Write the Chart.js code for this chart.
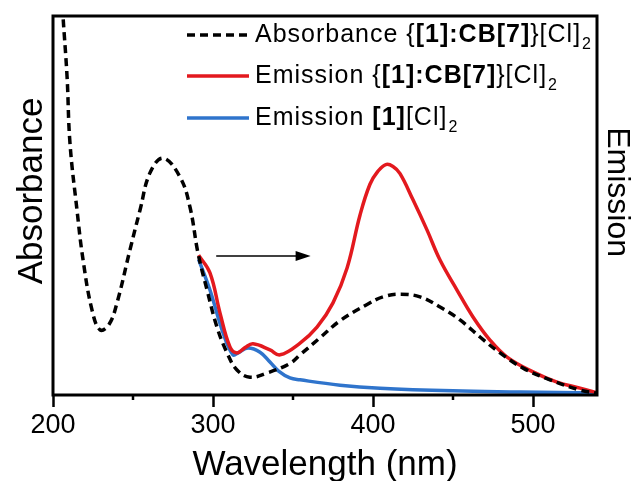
<!DOCTYPE html>
<html>
<head>
<meta charset="utf-8">
<script src="https://cdn.jsdelivr.net/npm/chart.js@4.4.1/dist/chart.umd.min.js"></script>
<style>
  html, body { margin: 0; padding: 0; background: #fff; }
  #wrap { width: 635px; height: 481px; }
</style>
</head>
<body>
<div id="wrap"><canvas id="spectra"></canvas></div>
<script>
// absorbance of {[1]:CB[7]}[Cl]2 (arb. units)
const absWl  = [205.5, 206.3, 208.8, 210.6, 215, 218.8, 224.4, 229.4, 235, 240, 248.1, 254.4, 260.6, 268.8, 279.4, 285.6, 290.6, 296.3, 302.5, 308.8, 315, 323.1, 333.8, 348, 354.4, 366.9, 379.4, 396.3, 406.3, 416.9, 429.4, 441.9, 454.4, 466.9, 479.4, 493.8, 510.6, 529.4, 540]
const absVal = [106, 99.7, 83.9, 66.5, 48.8, 35.6, 22.4, 17.2, 18.6, 24.3, 38.3, 48.8, 58.6, 62.5, 57.5, 49.6, 37.5, 27.7, 17.9, 11.1, 6.6, 4.7, 5.8, 8.3, 10.6, 15.1, 19.6, 23.9, 25.9, 26.6, 25.9, 23.2, 19.8, 15.3, 11.1, 7.1, 4.0, 1.3, 0.5]

// emission of {[1]:CB[7]}[Cl]2
const emCbWl  = [291, 298.1, 304.4, 310.6, 315, 320, 325, 335.6, 341.9, 354.4, 365, 375, 383.8, 391.9, 398.1, 403, 408, 412.5, 416.9, 425, 433.8, 441.9, 452.5, 462.5, 473.1, 483.8, 500, 515, 529.4, 540]
const emCbVal = [36.9, 32.2, 21.6, 12.7, 11.1, 12.5, 13.5, 11.9, 10.6, 13.7, 17.9, 24.3, 33.5, 47.5, 55.6, 59.0, 60.8, 60.3, 58.4, 51.5, 43.5, 35.6, 27.7, 20.6, 14.5, 10, 6.1, 3.4, 1.8, 0.6]

// emission of [1][Cl]2
const emFreeWl  = [291, 298.1, 306.3, 312.5, 316, 321.9, 329.4, 335.6, 341, 348.1, 354.4, 379.4, 404.4, 450, 491.9, 540]
const emFreeVal = [35.8, 27.7, 16.4, 10.6, 11.2, 12.4, 11.3, 8.7, 6.3, 4.5, 4.0, 2.6, 1.8, 1.1, 0.8, 0.5]

const xTicks = [200, 250, 300, 350, 400, 450, 500]

// legend text pieces: plain / bold / subscript
const legendRows = [
  [['Absorbance {', ''], ['[1]:CB[7]', 'b'], ['}[Cl]', ''], ['2', 's']],
  [['Emission {', ''], ['[1]:CB[7]', 'b'], ['}[Cl]', ''], ['2', 's']],
  [['Emission ', ''], ['[1]', 'b'], ['[Cl]', ''], ['2', 's']]
]

const toPoints = (xs, ys) => xs.map((x, i) => ({ x: x, y: ys[i] }))

const FONT = '"Liberation Sans", Arial, sans-serif'
Chart.defaults.font.family = FONT
Chart.defaults.color = '#000'

const arrow = { from: [302, 36.7], to: [361, 36.7] }

const extras = {
  id: 'extras',
  afterDatasetsDraw(chart) {
    const { ctx, chartArea: a, scales } = chart
    const sx = scales.x, sy = scales.yA
    ctx.save()

    // frame
    ctx.strokeStyle = '#000'
    ctx.lineWidth = 3
    ctx.strokeRect(a.left, a.top, a.right - a.left, a.bottom - a.top)

    // minor ticks
    ctx.lineWidth = 2.5
    xTicks.filter(v => v % 100 !== 0).forEach(v => {
      const px = sx.getPixelForValue(v)
      ctx.beginPath()
      ctx.moveTo(px, a.bottom)
      ctx.lineTo(px, a.bottom + 5)
      ctx.stroke()
    })

    // arrow
    const x1 = sx.getPixelForValue(arrow.from[0]), y1 = sy.getPixelForValue(arrow.from[1])
    const x2 = sx.getPixelForValue(arrow.to[0]), y2 = sy.getPixelForValue(arrow.to[1])
    ctx.lineWidth = 1.5
    ctx.beginPath()
    ctx.moveTo(x1, y1)
    ctx.lineTo(x2 - 10, y2)
    ctx.stroke()
    ctx.fillStyle = '#000'
    ctx.beginPath()
    ctx.moveTo(x2, y2)
    ctx.lineTo(x2 - 15, y2 - 5)
    ctx.lineTo(x2 - 15, y2 + 5)
    ctx.closePath()
    ctx.fill()

    // legend
    const rowsY = [35, 76, 118]
    ctx.letterSpacing = '1px'
    chart.data.datasets.forEach((ds, i) => {
      const y = rowsY[i]
      ctx.strokeStyle = ds.borderColor
      ctx.lineWidth = ds.borderWidth
      ctx.setLineDash(ds.borderDash || [])
      ctx.beginPath()
      ctx.moveTo(187, y)
      ctx.lineTo(249, y)
      ctx.stroke()
      ctx.setLineDash([])

      let tx = 255
      ctx.textBaseline = 'middle'
      ctx.fillStyle = '#000'
      legendRows[i].forEach(([t, k]) => {
        if (k === 's') {
          ctx.font = '16px ' + FONT
          ctx.fillText(t, tx + 1, y + 10)
        } else {
          ctx.font = (k === 'b' ? 'bold ' : '') + '25px ' + FONT
          ctx.fillText(t, tx, y)
          tx += ctx.measureText(t).width
        }
      })
    })
    ctx.restore()
  }
}

new Chart(document.getElementById('spectra'), {
  type: 'line',
  data: {
    datasets: [{
      label: 'Absorbance {[1]:CB[7]}[Cl]2',
      data: toPoints(absWl, absVal),
      yAxisID: 'yA',
      borderColor: '#000',
      borderWidth: 3.5,
      borderDash: [8, 5]
    }, {
      label: 'Emission {[1]:CB[7]}[Cl]2',
      data: toPoints(emCbWl, emCbVal),
      yAxisID: 'yE',
      borderColor: '#e3191e',
      borderWidth: 3.5
    }, {
      label: 'Emission [1][Cl]2',
      data: toPoints(emFreeWl, emFreeVal),
      yAxisID: 'yE',
      borderColor: '#2f74cc',
      borderWidth: 3.5
    }]
  },
  options: {
    responsive: true,
    maintainAspectRatio: false,
    animation: false,
    layout: { padding: { top: 16 } },
    elements: {
      point: { radius: 0 },
      line: { tension: 0.4, fill: false }
    },
    plugins: {
      legend: { display: false },
      tooltip: { enabled: false }
    },
    scales: {
      x: {
        type: 'linear',
        min: 200,
        max: 540,
        afterBuildTicks: s => { s.ticks = xTicks.map(v => ({ value: v })) },
        afterFit: s => { s.height = 86 },
        ticks: {
          font: { size: 27 },
          padding: 2,
          maxRotation: 0,
          autoSkip: false,
          callback: v => (v % 100 === 0 ? v : '')
        },
        grid: {
          drawOnChartArea: false,
          tickLength: 12,
          tickWidth: 2.5,
          tickColor: c => (c.tick && c.tick.value % 100 === 0 ? '#000' : 'rgba(0,0,0,0)')
        },
        border: { display: false },
        title: {
          display: true,
          text: 'Wavelength (nm)',
          font: { size: 35, lineHeight: 0.9 },
          padding: { top: 0, bottom: 0 }
        }
      },
      yA: {
        position: 'left',
        min: 0,
        max: 100,
        afterFit: s => { s.width = 53 },
        ticks: { display: false },
        grid: { display: false },
        border: { display: false },
        title: {
          display: true,
          text: '   Absorbance',
          font: { size: 35, lineHeight: 1 },
          padding: { top: 15, bottom: 0 }
        }
      },
      yE: {
        position: 'right',
        min: 0,
        max: 100,
        afterFit: s => { s.width = 38 },
        ticks: { display: false },
        grid: { display: false },
        border: { display: false },
        title: {
          display: true,
          text: 'Emission   ',
          font: { size: 32, lineHeight: 1 },
          padding: { top: 2, bottom: 0 }
        }
      }
    }
  },
  plugins: [extras]
})
</script>
</body>
</html>
